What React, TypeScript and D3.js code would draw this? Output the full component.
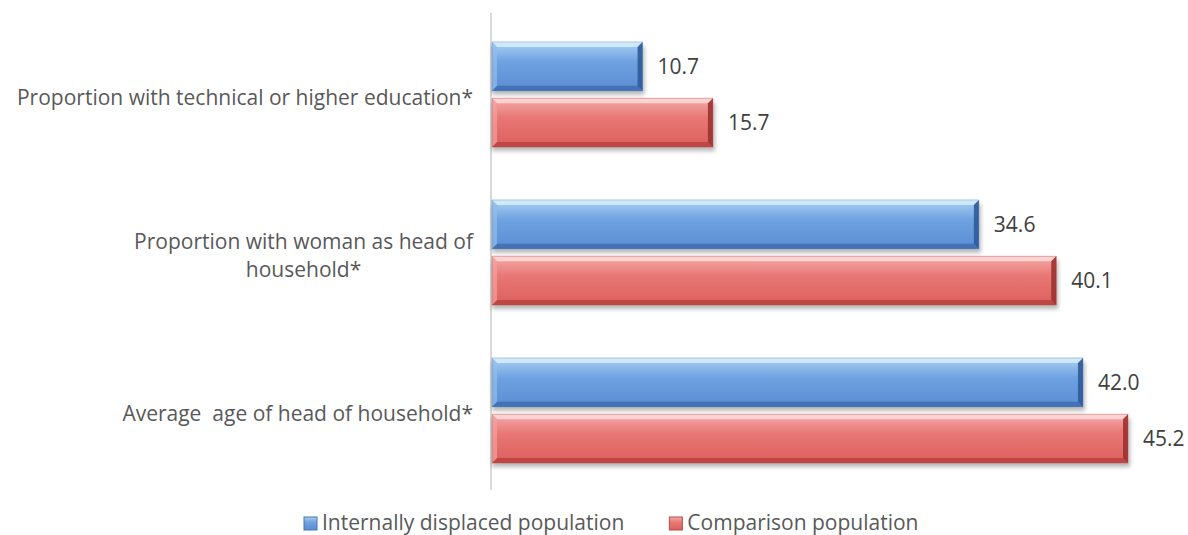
import React, { useEffect, useRef } from "react";
import * as d3 from "d3";

const categories = [
  "Proportion with technical or higher education*",
  "Proportion with woman as head of\nhousehold*",
  "Average  age of head of household*",
];
const seriesNames = ["Internally displaced population", "Comparison population"];
const displacedValues = [10.7, 34.6, 42.0];
const comparisonValues = [15.7, 40.1, 45.2];

const palettes = [
  { top: "#d8eefc", g0: "#abd0f2", g1: "#6fa2e1", g2: "#5a8cd2", bottom: "#3e6db0", right: "#2d5a98", left: "#93bdea", stroke: "#4775b4" },
  { top: "#fcdada", g0: "#f4abaa", g1: "#e87775", g2: "#dc5f5c", bottom: "#b8423f", right: "#9c3230", left: "#f0a3a1", stroke: "#b94a47" },
];

export default function App() {
  const ref = useRef<SVGSVGElement>(null);
  useEffect(() => {
    document.body.style.margin = "0";
    const svg = d3.select(ref.current);
    svg.selectAll("*").remove();
    const font = "'Open Sans', sans-serif";
    const fs = 21;
    const x = d3.scaleLinear().domain([0, 45.2]).range([492, 1128]);
    const y = d3.scaleBand<string>().domain(categories).range([15.5, 489.5]).paddingInner(0.335).paddingOuter(0.1675);
    const ys = d3.scaleBand<string>().domain(seriesNames).range([0, y.bandwidth()]).paddingInner(0.13);

    const defs = svg.append("defs");
    const filt = defs.append("filter").attr("id", "shadow").attr("x", "-10%").attr("y", "-50%").attr("width", "120%").attr("height", "200%");
    filt.append("feGaussianBlur").attr("stdDeviation", 2.2);
    palettes.forEach((p, i) => {
      const g = defs.append("linearGradient").attr("id", "grad" + i).attr("x1", 0).attr("y1", 0).attr("x2", 0).attr("y2", 1);
      g.append("stop").attr("offset", "0%").attr("stop-color", p.g0);
      g.append("stop").attr("offset", "40%").attr("stop-color", p.g1);
      g.append("stop").attr("offset", "100%").attr("stop-color", p.g2);
    });

    // axis line
    svg.append("line").attr("x1", 491).attr("x2", 491).attr("y1", 13).attr("y2", 490)
      .attr("stroke", "#d9d9d9").attr("stroke-width", 2);

    const seriesValues = [displacedValues, comparisonValues];
    const b = 5;
    categories.forEach((cat, ci) => {
      seriesNames.forEach((sn, si) => {
        const v = seriesValues[si][ci];
        const p = palettes[si];
        const x0 = x(0), x1 = x(v);
        const y0 = (y(cat) as number) + (ys(sn) as number);
        const h = ys.bandwidth();
        const g = svg.append("g");
        g.append("rect").attr("x", x0).attr("y", y0 + 4).attr("width", x1 - x0 + 2).attr("height", h)
          .attr("fill", "#000").attr("opacity", 0.28).attr("filter", "url(#shadow)");
        g.append("rect").attr("x", x0).attr("y", y0).attr("width", x1 - x0).attr("height", h)
          .attr("fill", `url(#grad${si})`);
        g.append("polygon").attr("points", `${x0},${y0} ${x1},${y0} ${x1 - b},${y0 + b} ${x0 + b},${y0 + b}`)
          .attr("fill", p.top).attr("opacity", 0.85);
        g.append("polygon").attr("points", `${x0},${y0 + h} ${x1},${y0 + h} ${x1 - b},${y0 + h - b} ${x0 + b},${y0 + h - b}`)
          .attr("fill", p.bottom).attr("opacity", 0.85);
        g.append("polygon").attr("points", `${x1},${y0} ${x1},${y0 + h} ${x1 - b},${y0 + h - b} ${x1 - b},${y0 + b}`)
          .attr("fill", p.right).attr("opacity", 0.9);
        g.append("polygon").attr("points", `${x0},${y0} ${x0},${y0 + h} ${x0 + b},${y0 + h - b} ${x0 + b},${y0 + b}`)
          .attr("fill", p.left).attr("opacity", 0.7);
        g.append("rect").attr("x", x0).attr("y", y0).attr("width", x1 - x0).attr("height", h)
          .attr("fill", "none").attr("stroke", p.stroke).attr("stroke-width", 0.6).attr("stroke-opacity", 0.6);
        svg.append("text").attr("x", x1 + 15).attr("y", y0 + h / 2).attr("dy", "0.36em")
          .attr("font-family", font).attr("font-size", fs).attr("fill", "#404040")
          .text(v.toFixed(1));
      });
    });

    // category labels
    const lh = 28;
    categories.forEach((cat) => {
      const lines = cat.split("\n");
      const cy = (y(cat) as number) + y.bandwidth() / 2 + 2.5;
      const texts = lines.map((ln, li) =>
        svg.append("text").attr("y", cy + (li - (lines.length - 1) / 2) * lh).attr("dy", "0.36em")
          .attr("font-family", font).attr("font-size", fs).attr("fill", "#595959")
          .style("white-space", "pre").text(ln)
      );
      const widths = texts.map((t) => (t.node() as SVGTextElement).getComputedTextLength());
      const maxW = Math.max(...widths);
      const right = 473;
      texts.forEach((t) => t.attr("text-anchor", "middle").attr("x", right - maxW / 2));
    });

    // legend
    let lx = 304;
    const ly = 530;
    seriesNames.forEach((sn, si) => {
      const p = palettes[si];
      svg.append("rect").attr("x", lx).attr("y", ly - 13).attr("width", 13).attr("height", 13)
        .attr("fill", `url(#grad${si})`).attr("stroke", p.stroke).attr("stroke-width", 1);
      const t = svg.append("text").attr("x", lx + 18).attr("y", ly)
        .attr("font-family", font).attr("font-size", fs).attr("fill", "#595959").text(sn);
      const w = (t.node() as SVGTextElement).getComputedTextLength();
      lx = lx + 18 + w + 45;
    });
  }, []);
  return <svg ref={ref} width={1188} height={535} style={{ display: "block" }} />;
}
